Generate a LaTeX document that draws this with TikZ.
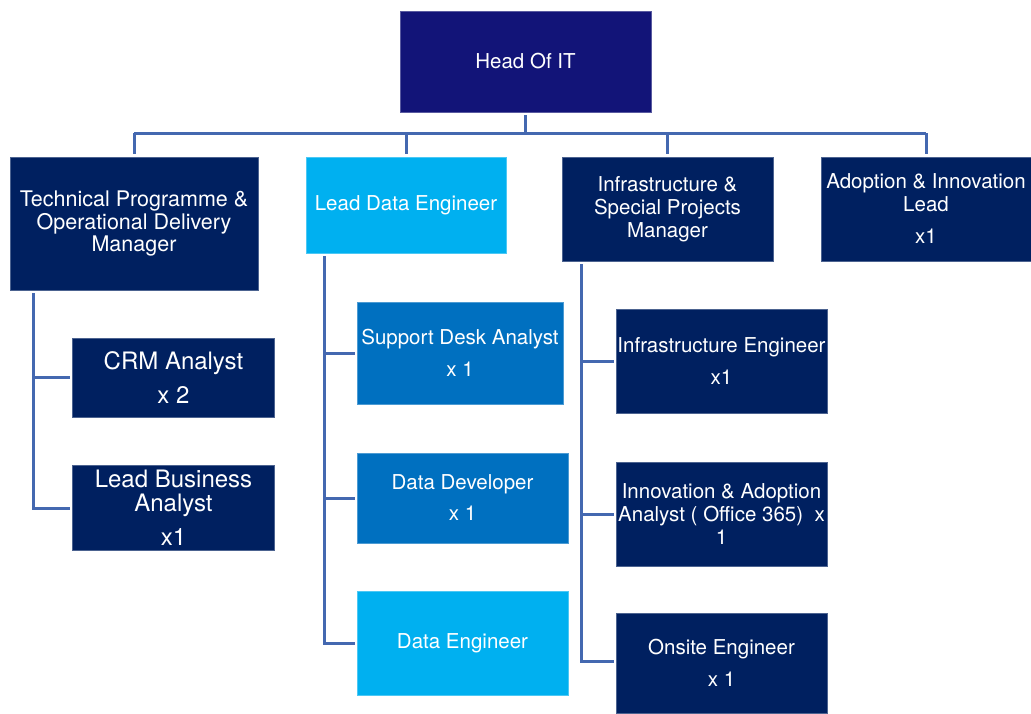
\documentclass[tikz,border=0pt]{standalone}
\usepackage{fontspec}
\setmainfont{TeX Gyre Heros}
\usetikzlibrary{positioning, calc}

\definecolor{headblue}{RGB}{18,20,120}
\definecolor{navy}{RGB}{0,32,96}
\definecolor{midblue}{RGB}{0,112,192}
\definecolor{skyblue}{RGB}{0,176,240}
\definecolor{linkblue}{RGB}{68,104,176}

\begin{document}
\begin{tikzpicture}[
  x=1pt, y=-1pt,
  box/.style={rectangle, fill=#1, draw=#1!70!white, line width=0.6pt, inner sep=0pt, align=center, text=white,
              font=\fontsize{20.5}{23}\selectfont},
  box/.default=navy,
  link/.style={draw=linkblue, line width=3pt, shorten <=3pt, shorten >=2pt}
]
\useasboundingbox (0,0) rectangle (1031,713);

% Top level
\node[box=headblue, minimum width=251pt, minimum height=101pt] (head) at (525.5,61.5) {Head Of IT};

% Managers
\node[box, minimum width=248pt, minimum height=133pt, font=\fontsize{21.5}{22.5}\selectfont] (tpm) at (134,223.5)
  {Technical Programme \&\\Operational Delivery\\Manager};
\node[box=skyblue, minimum width=200pt, minimum height=96pt] (lde) at (406,205) {Lead Data Engineer};
\node[box, minimum width=211pt, minimum height=104pt] (ispm) at (667.5,209)
  {Infrastructure \&\\Special Projects\\Manager};
\node[box, minimum width=210pt, minimum height=104pt] (ail) at (926,209)
  {Adoption \& Innovation\\Lead\\[9pt]x1};

% Technical Programme team
\node[box, minimum width=202pt, minimum height=79pt, font=\fontsize{24}{24}\selectfont] (crm) at (173.5,377.5)
  {CRM Analyst\\[10pt]x 2};
\node[box, minimum width=202pt, minimum height=85pt, font=\fontsize{24}{24}\selectfont] (lba) at (173.5,508)
  {Lead Business\\Analyst\\[10pt]x1};

% Data team
\node[box=midblue, minimum width=206pt, minimum height=102pt] (sda) at (460,353) {Support Desk Analyst\\[9pt]x 1};
\node[box=midblue, minimum width=211pt, minimum height=90pt] (dd) at (462.5,498) {Data Developer\\[8pt]x 1};
\node[box=skyblue, minimum width=211pt, minimum height=104pt] (de) at (462.5,643) {Data Engineer};

% Infrastructure team
\node[box, minimum width=211pt, minimum height=104pt] (ie) at (721.5,361) {Infrastructure Engineer\\[9pt]x1};
\node[box, minimum width=211pt, minimum height=104pt] (iaa) at (721.5,514)
  {Innovation \& Adoption\\Analyst ( Office 365)\ \ x\\1};
\node[box, minimum width=211pt, minimum height=100pt] (ose) at (721.5,663) {Onsite Engineer\\[9pt]x 1};

% Bus under Head Of IT
\coordinate (bus) at (525.5,133);
\draw[link, shorten >=0pt] (head.south) -- (head.south |- bus);
\draw[link, shorten <=0pt, shorten >=0pt] (tpm.north |- bus) -- (ail.north |- bus);
\foreach \n in {tpm, lde, ispm, ail}
  \draw[link, shorten <=0pt, shorten >=3pt] (\n.north |- bus) -- (\n.north);

% Branch bars
\coordinate (tpmbar) at ([xshift=24pt]tpm.south west);
\coordinate (ldebar) at ([xshift=18.5pt]lde.south west);
\coordinate (ispmbar) at ([xshift=20pt]ispm.south west);

\draw[link] (tpmbar) |- (lba.west);
\draw[link, shorten <=0pt] (tpmbar |- crm.west) -- (crm.west);

\draw[link] (ldebar) |- (de.west);
\draw[link, shorten <=0pt] (ldebar |- sda.west) -- (sda.west);
\draw[link, shorten <=0pt] (ldebar |- dd.west) -- (dd.west);

\draw[link] (ispmbar) |- ([yshift=2pt]ose.west);
\draw[link, shorten <=0pt] (ispmbar |- ie.west) -- (ie.west);
\draw[link, shorten <=0pt] (ispmbar |- iaa.west) -- (iaa.west);

\end{tikzpicture}
\end{document}
